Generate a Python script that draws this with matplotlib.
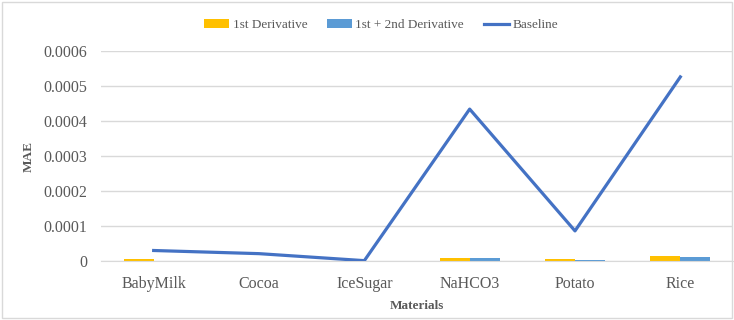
import matplotlib.pyplot as plt
import numpy as np
from matplotlib.patches import Rectangle

plt.rcParams['font.family'] = ['Liberation Serif', 'DejaVu Serif']

materials = ['BabyMilk', 'Cocoa', 'IceSugar', 'NaHCO3', 'Potato', 'Rice']
first_deriv = [0.000005, 0.0, 0.0, 0.000009, 0.000007, 0.000013]
first_second_deriv = [0.000001, 0.0, 0.0, 0.000009, 0.000002, 0.000012]
baseline = [0.00003, 0.000021, 0.000001, 0.000434, 0.000086, 0.000526]
yticks = [0, 0.0001, 0.0002, 0.0003, 0.0004, 0.0005, 0.0006]
ytick_labels = ['0', '0.0001', '0.0002', '0.0003', '0.0004', '0.0005', '0.0006']

fig = plt.figure(figsize=(7.34, 3.2), dpi=100)
ax = fig.add_axes([101/734, 1 - 261/320, 632/734, 210/320])

x = np.arange(len(materials))
w = 0.285
b1 = ax.bar(x - w/2, first_deriv, w, color='#FFC000', label='1st Derivative', zorder=2)
b2 = ax.bar(x + w/2, first_second_deriv, w, color='#5B9BD5', label='1st + 2nd Derivative', zorder=2)
ln, = ax.plot(x, baseline, color='#4472C4', lw=2.3, label='Baseline', zorder=3)

ax.set_xlim(-0.5, len(materials) - 0.5)
ax.set_ylim(0, 0.0006)
ax.set_yticks(yticks)
ax.set_yticklabels(ytick_labels)
ax.set_xticks(x)
ax.set_xticklabels(materials)
ax.grid(axis='y', color='#d9d9d9', lw=1, zorder=0)
ax.set_axisbelow(True)
for s in ['top', 'right', 'left']:
    ax.spines[s].set_visible(False)
ax.spines['bottom'].set_color('#d9d9d9')
ax.tick_params(length=0, labelsize=11.5, colors='#595959')
ax.tick_params(axis='x', pad=11)
ax.tick_params(axis='y', pad=10)

ax.set_xlabel('Materials', fontsize=9.5, fontweight='bold', color='#595959')
ax.set_ylabel('MAE', fontsize=9.5, fontweight='bold', color='#595959')
ax.xaxis.set_label_coords(0.5, -(300 - 261) / 210)
ax.yaxis.set_label_coords((35 - 101) / 632, 0.5)

ax.legend([b1, b2, ln], ['1st Derivative', '1st + 2nd Derivative', 'Baseline'],
          loc='center', bbox_to_anchor=(381/734, 1 - 25/320), bbox_transform=fig.transFigure,
          ncol=3, frameon=False, fontsize=9.5, handlelength=1.9, handleheight=0.6,
          columnspacing=1.5, handletextpad=0.25, labelcolor='#595959')

fig.patches.append(Rectangle((0.003, 0.005), 0.994, 0.99, transform=fig.transFigure,
                             fill=False, edgecolor='#d9d9d9', lw=1))

fig.savefig('out.png', dpi=100)
